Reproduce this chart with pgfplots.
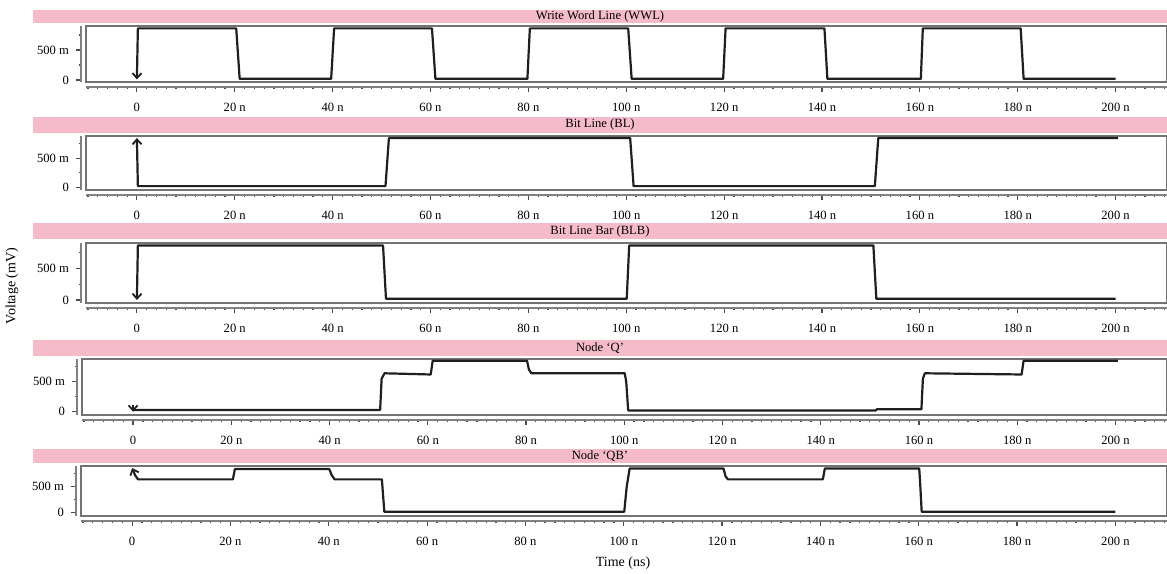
\documentclass[border=0pt]{standalone}
\usepackage{fontspec}
\setmainfont{Liberation Serif}
\usepackage{pgfplots}
\pgfplotsset{compat=1.18}
\usetikzlibrary{arrows.meta}
\definecolor{pinkbar}{RGB}{245,187,203}
\newcommand\tf{\fontsize{6.3pt}{7.5pt}\selectfont}
\tikzset{boxl/.style={draw=black!55, line width=0.9pt}}
\pgfplotsset{
 panel/.style={
  anchor=south west, scale only axis, clip=false,
  xmin=-10.4, xmax=210.5,
  axis x line*=bottom, axis y line*=left,
  axis x line shift=2.5pt, axis y line shift=2.5pt,
  axis line style={draw=black!50, line width=1pt},
  tick align=outside,
  major tick length=2.5pt, minor tick length=1.2pt,
  tick style={black!70, line width=0.6pt},
  xtick={0,20,...,200},
  xticklabels={0,20 n,40 n,60 n,80 n,100 n,120 n,140 n,160 n,180 n,200 n},
  minor xtick={-10,-8,...,210},
  ytick={0,0.5}, yticklabels={0,500 m}, minor ytick={0.25,0.75},
  tick label style={font=\tf},
  xticklabel style={yshift=-2pt},
 },
 sig/.style={black!88, line width=1.1pt, line join=round, {Straight Barb[length=2.5pt,width=4.5pt,line width=0.9pt]}-},
 sig0/.style={black!88, line width=1.1pt, line join=round},
}
\begin{document}
\begin{tikzpicture}
\useasboundingbox (0,0) rectangle (583.5pt,-286.5pt);
% title bars
\fill[pinkbar] (16.65pt,-5pt) rectangle (583.5pt,-11.35pt);
\node[font=\tf, inner sep=0] at (300pt,-8.2pt) {Write Word Line (WWL)};
\fill[pinkbar] (16.65pt,-58.5pt) rectangle (583.5pt,-66.35pt);
\node[font=\tf, inner sep=0] at (300pt,-62.4pt) {Bit Line (BL)};
\fill[pinkbar] (16.65pt,-111.65pt) rectangle (583.5pt,-119.65pt);
\node[font=\tf, inner sep=0] at (300pt,-115.6pt) {Bit Line Bar (BLB)};
\fill[pinkbar] (16.65pt,-170pt) rectangle (583.5pt,-178pt);
\node[font=\tf, inner sep=0] at (300pt,-174pt) {Node ‘Q’};
\fill[pinkbar] (16.65pt,-224.65pt) rectangle (583.5pt,-231.65pt);
\node[font=\tf, inner sep=0] at (300pt,-228.1pt) {Node ‘QB’};

% WWL
\begin{axis}[panel, at={(43pt,-40.85pt)}, width=540.5pt, height=28pt, ymin=-0.028, ymax=0.905]
\draw[boxl] (rel axis cs:0,0) rectangle (rel axis cs:1,1);
\addplot[sig] coordinates {(0,0.01) (0.2,0.86) (20.3,0.86) (21.0,0.02) (39.7,0.02) (40.3,0.86) (60.3,0.86) (61.0,0.02) (79.8,0.02) (80.3,0.86) (100.4,0.86) (101.1,0.02) (119.8,0.02) (120.3,0.86) (140.5,0.86) (141.1,0.02) (160.2,0.02) (160.6,0.86) (180.6,0.86) (181.2,0.02) (200,0.02)};
\end{axis}
% BL
\begin{axis}[panel, at={(43pt,-95pt)}, width=540.5pt, height=27.15pt, ymin=-0.047, ymax=0.89]
\draw[boxl] (rel axis cs:0,0) rectangle (rel axis cs:1,1);
\addplot[sig] coordinates {(0,0.85) (0.2,0.02) (50.8,0.02) (51.5,0.85) (100.8,0.85) (101.5,0.02) (150.8,0.02) (151.5,0.85) (200.5,0.85)};
\end{axis}
% BLB
\begin{axis}[panel, at={(43pt,-151.35pt)}, width=540.5pt, height=29.7pt, ymin=-0.043, ymax=0.894]
\draw[boxl] (rel axis cs:0,0) rectangle (rel axis cs:1,1);
\addplot[sig] coordinates {(0,0.0) (0.2,0.86) (50.3,0.86) (50.9,0.02) (100.1,0.02) (100.6,0.86) (150.5,0.86) (151.1,0.02) (200,0.02)};
\end{axis}
% Q
\begin{axis}[panel, at={(41pt,-207.5pt)}, width=542.5pt, height=27.85pt, ymin=-0.055, ymax=0.873]
\draw[boxl] (rel axis cs:0,0) rectangle (rel axis cs:1,1);
\addplot[sig] coordinates {(0,0.0) (0,0.12)};
\addplot[sig0] coordinates {(0,0.03) (50.3,0.03) (50.6,0.55) (51.2,0.64) (60.6,0.62) (61.0,0.85) (80.2,0.85) (80.6,0.70) (81.1,0.64) (100.1,0.64) (100.4,0.5) (100.8,0.02) (151.2,0.02) (151.4,0.04) (160.5,0.04) (160.8,0.55) (161.2,0.64) (180.9,0.62) (181.3,0.85) (200.5,0.85)};
\end{axis}
% QB
\begin{axis}[panel, at={(40.5pt,-258pt)}, width=543pt, height=25pt, ymin=-0.072, ymax=0.90]
\draw[boxl] (rel axis cs:0,0) rectangle (rel axis cs:1,1);
\addplot[sig] coordinates {(0,0.86) (0.6,0.72) (1.2,0.64) (20.5,0.64) (20.9,0.84) (40.1,0.84) (40.6,0.72) (41.2,0.64) (50.8,0.64) (51.3,0.01) (100.1,0.01) (100.6,0.5) (101.2,0.85) (120.3,0.85) (120.7,0.70) (121.2,0.64) (140.5,0.64) (140.9,0.85) (160.1,0.85) (160.3,0.55) (160.6,0.01) (200,0.01)};
\end{axis}

\node[font=\fontsize{7pt}{8pt}\selectfont, rotate=90] at (6pt,-143pt) {Voltage (mV)};
\node[font=\fontsize{7pt}{8pt}\selectfont] at (311.5pt,-281.5pt) {Time (ns)};
\end{tikzpicture}
\end{document}
